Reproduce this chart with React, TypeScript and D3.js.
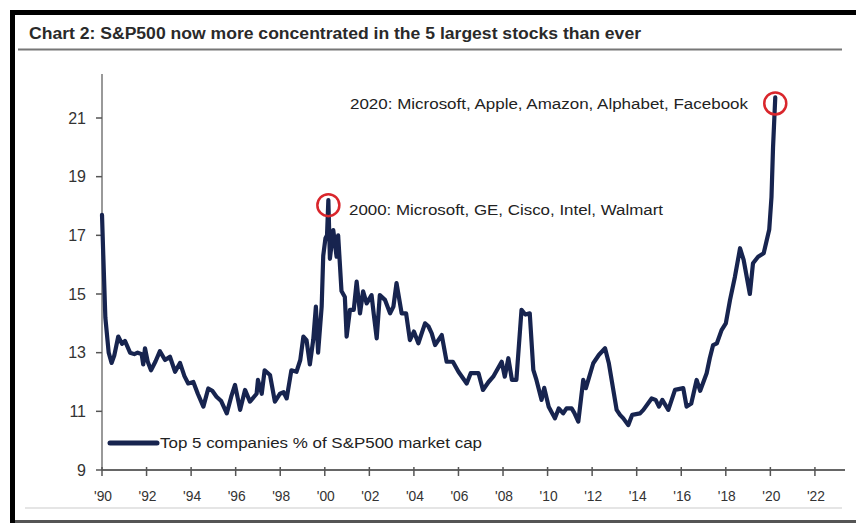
import React from "react";
import * as d3 from "d3";

// Top-5 share of S&P500 market cap, sampled as decimal years and percent
const dates: number[] = [
  1990.0, 1990.05, 1990.15, 1990.3, 1990.43, 1990.55, 1990.73, 1990.9, 1991.03, 1991.26,
  1991.45, 1991.6, 1991.78, 1991.85, 1991.93, 1992.05, 1992.2, 1992.4, 1992.6, 1992.83,
  1993.05, 1993.28, 1993.5, 1993.7, 1993.87, 1994.1, 1994.3, 1994.55, 1994.77, 1994.95,
  1995.14, 1995.35, 1995.6, 1995.8, 1995.97, 1996.2, 1996.42, 1996.64, 1996.94, 1997.0,
  1997.17, 1997.3, 1997.54, 1997.76, 1997.99, 1998.15, 1998.29, 1998.5, 1998.73, 1998.9,
  1999.04, 1999.18, 1999.33, 1999.48, 1999.6, 1999.7, 1999.86, 1999.93, 2000.03, 2000.1,
  2000.16, 2000.23, 2000.38, 2000.53, 2000.6, 2000.75, 2000.9, 2000.98, 2001.13, 2001.3,
  2001.43, 2001.58, 2001.72, 2001.88, 2002.1, 2002.2, 2002.33, 2002.47, 2002.7, 2002.93,
  2003.08, 2003.22, 2003.45, 2003.65, 2003.82, 2004.0, 2004.2, 2004.5, 2004.65, 2004.8,
  2004.95, 2005.25, 2005.47, 2005.75, 2006.0, 2006.37, 2006.55, 2006.9, 2007.1, 2007.35,
  2007.56, 2007.8, 2007.94, 2008.08, 2008.24, 2008.4, 2008.6, 2008.83, 2009.0, 2009.2,
  2009.36, 2009.5, 2009.73, 2009.85, 2010.05, 2010.33, 2010.5, 2010.7, 2010.85, 2011.08,
  2011.2, 2011.38, 2011.6, 2011.72, 2012.05, 2012.3, 2012.58, 2012.75, 2013.1, 2013.25,
  2013.4, 2013.62, 2013.8, 2014.15, 2014.3, 2014.67, 2014.85, 2015.0, 2015.15, 2015.42,
  2015.72, 2016.09, 2016.24, 2016.45, 2016.69, 2016.85, 2017.14, 2017.28, 2017.43, 2017.6,
  2017.81, 2018.0, 2018.19, 2018.41, 2018.64, 2018.8, 2019.08, 2019.22, 2019.45, 2019.7,
  2019.95, 2020.05, 2020.12, 2020.22,
];

const topFiveShare: number[] = [
  17.7, 16.5, 14.2, 13.0, 12.65, 12.9, 13.55, 13.3, 13.4, 13.0,
  12.95, 13.0, 12.95, 12.6, 13.15, 12.7, 12.4, 12.7, 13.05, 12.75,
  12.86, 12.35, 12.65, 12.2, 11.95, 12.0, 11.6, 11.16, 11.78, 11.7,
  11.5, 11.35, 10.93, 11.5, 11.9, 11.05, 11.73, 11.33, 11.6, 12.07,
  11.6, 12.4, 12.24, 11.33, 11.6, 11.65, 11.44, 12.4, 12.35, 12.75,
  13.55, 13.43, 12.6, 13.43, 14.57, 13.0, 14.57, 16.3, 16.9, 17.0,
  18.2, 16.2, 17.18, 16.27, 17.0, 15.1, 14.9, 13.55, 14.46, 14.46,
  15.42, 14.34, 15.09, 14.68, 14.96, 14.3, 13.49, 14.96, 14.8, 14.34,
  14.57, 15.37, 14.34, 14.34, 13.43, 13.72, 13.32, 14.0, 13.9, 13.66,
  13.26, 13.6, 12.69, 12.69, 12.35, 11.95, 12.3, 12.3, 11.73, 12.0,
  12.18, 12.5, 12.69, 12.18, 12.81, 12.07, 12.07, 14.46, 14.3, 14.34,
  12.41, 12.07, 11.39, 11.8, 11.16, 10.76, 11.1, 10.93, 11.1, 11.1,
  10.95, 10.65, 12.07, 11.79, 12.64, 12.92, 13.15, 12.64, 11.05, 10.88,
  10.76, 10.53, 10.88, 10.93, 11.05, 11.44, 11.39, 11.16, 11.39, 11.05,
  11.73, 11.79, 11.16, 11.27, 12.07, 11.7, 12.3, 12.81, 13.26, 13.32,
  13.77, 14.0, 14.8, 15.59, 16.56, 16.16, 15.0, 16.05, 16.27, 16.39,
  17.2, 18.3, 20.0, 21.7,
];

const yTicks: number[] = [9, 11, 13, 15, 17, 19, 21];
const xTicks: number[] = [1990, 1992, 1994, 1996, 1998, 2000, 2002, 2004, 2006, 2008, 2010, 2012, 2014, 2016, 2018, 2020, 2022];

const titleText = "Chart 2:  S&P500 now more concentrated in the 5 largest stocks than ever";
const legendText = "Top 5 companies % of S&P500 market cap";

// Highlighted peaks with their constituent lists
const peakDates: number[] = [2000.16, 2020.22];
const peakLabels: string[] = [
  "2000: Microsoft, GE, Cisco, Intel, Walmart",
  "2020: Microsoft, Apple, Amazon, Alphabet, Facebook",
];

const W = 856;
const H = 523;
const navy = "#17244f";
const font = "'Liberation Sans', Arial, sans-serif";

export default function App() {
  const x = d3.scaleLinear().domain([1990, 2023.35]).range([102, 845]);
  const y = d3.scaleLinear().domain([9, 22.5]).range([470, 74]);

  const points: [number, number][] = dates.map((d, i) => [d, topFiveShare[i]]);
  const line = d3
    .line<[number, number]>()
    .x((d) => x(d[0]))
    .y((d) => y(d[1]))
    .curve(d3.curveLinear);

  const peaks = peakDates.map((d) => {
    const i = dates.indexOf(d);
    return { cx: x(d), cy: y(topFiveShare[i]) };
  });

  return (
    <svg
      width={W}
      height={H}
      viewBox={`0 0 ${W} ${H}`}
      style={{ position: "absolute", left: 0, top: 0, display: "block", background: "#fff" }}
    >
      {/* frame */}
      <rect x={0} y={0} width={W} height={H} fill="#fff" />
      <rect x={10} y={10} width={W - 10} height={5} fill="#000" />
      <rect x={10} y={10} width={5} height={H - 10} fill="#000" />
      <rect x={15} y={520} width={W - 15} height={3} fill="#555" />
      <line x1={25} x2={842} y1={508} y2={508} stroke="#dcdcdc" strokeWidth={1.5} />

      {/* title */}
      <text
        x={29}
        y={39}
        fontFamily={font}
        fontWeight="bold"
        fontSize={16}
        fill="#2a2a2a"
        textLength={612}
        lengthAdjust="spacingAndGlyphs"
      >
        {titleText}
      </text>
      <line x1={18} x2={842} y1={49.5} y2={49.5} stroke="#777" strokeWidth={2} />

      {/* y axis */}
      <line x1={102} x2={102} y1={74} y2={470} stroke="#555" strokeWidth={1.2} />
      {yTicks.map((t) => (
        <g key={`y${t}`}>
          <line x1={96} x2={102} y1={y(t)} y2={y(t)} stroke="#555" strokeWidth={1.5} />
          <text
            x={86}
            y={y(t)}
            dy="0.35em"
            textAnchor="end"
            fontFamily={font}
            fontSize={16}
            fill="#333"
          >
            {t}
          </text>
        </g>
      ))}

      {/* x axis */}
      <line x1={102} x2={845} y1={470} y2={470} stroke="#666" strokeWidth={2} />
      {xTicks.map((t) => (
        <g key={`x${t}`}>
          <line x1={x(t)} x2={x(t)} y1={467} y2={476} stroke="#555" strokeWidth={1.5} />
          <text
            x={x(t) + 1}
            y={496}
            dy="0.35em"
            textAnchor="middle"
            fontFamily={font}
            fontSize={15.5}
            fill="#333"
            textLength={18}
            lengthAdjust="spacingAndGlyphs"
          >
            {"'" + String(t).slice(2)}
          </text>
        </g>
      ))}

      {/* series */}
      <path
        d={line(points) || ""}
        fill="none"
        stroke={navy}
        strokeWidth={4.2}
        strokeLinejoin="round"
        strokeLinecap="round"
      />

      {/* peak markers */}
      {peaks.map((p, i) => (
        <circle
          key={`c${i}`}
          cx={p.cx}
          cy={p.cy + (i === 0 ? 5 : 6)}
          r={11}
          fill="none"
          stroke="#d9262c"
          strokeWidth={2.5}
        />
      ))}
      <text
        x={349}
        y={210}
        dy="0.35em"
        fontFamily={font}
        fontSize={15.5}
        fill="#222"
        textLength={314}
        lengthAdjust="spacingAndGlyphs"
      >
        {peakLabels[0]}
      </text>
      <text
        x={350}
        y={104}
        dy="0.35em"
        fontFamily={font}
        fontSize={15.5}
        fill="#222"
        textLength={398}
        lengthAdjust="spacingAndGlyphs"
      >
        {peakLabels[1]}
      </text>

      {/* legend */}
      <line x1={110} x2={157} y1={443} y2={443} stroke={navy} strokeWidth={5} strokeLinecap="round" />
      <text
        x={160}
        y={443}
        dy="0.35em"
        fontFamily={font}
        fontSize={15.5}
        fill="#222"
        textLength={322}
        lengthAdjust="spacingAndGlyphs"
      >
        {legendText}
      </text>
    </svg>
  );
}
